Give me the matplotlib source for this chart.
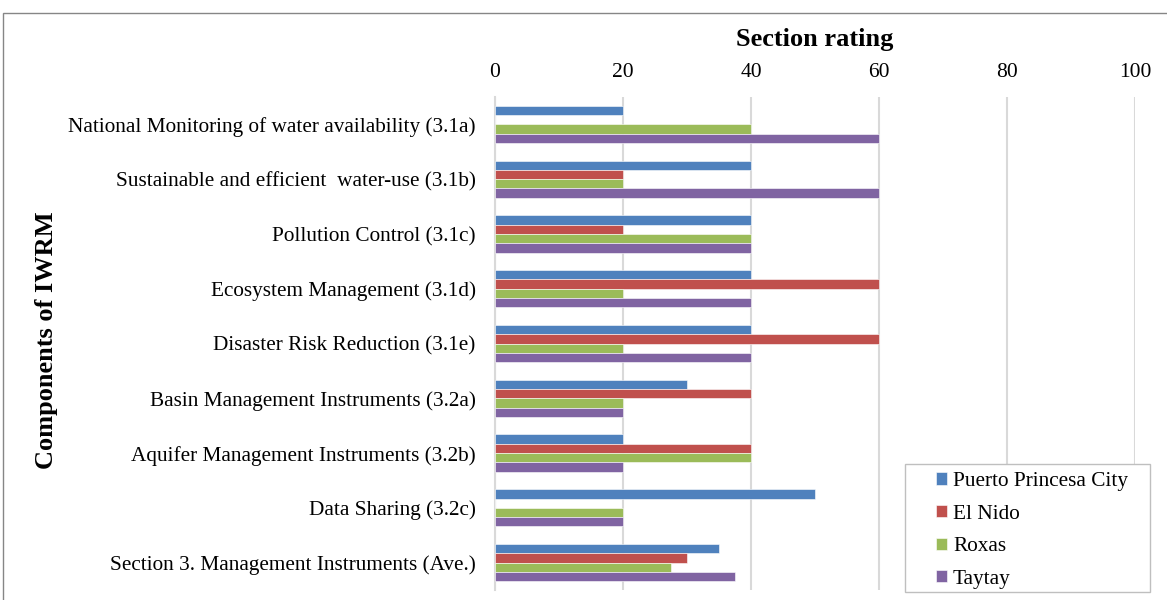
import matplotlib.pyplot as plt
import numpy as np
from matplotlib.patches import Rectangle

plt.rcParams['font.family'] = ['Liberation Serif', 'DejaVu Serif']

# data, top to bottom as in the chart
categories = [
    "National Monitoring of water availability (3.1a)",
    "Sustainable and efficient  water-use (3.1b)",
    "Pollution Control (3.1c)",
    "Ecosystem Management (3.1d)",
    "Disaster Risk Reduction (3.1e)",
    "Basin Management Instruments (3.2a)",
    "Aquifer Management Instruments (3.2b)",
    "Data Sharing (3.2c)",
    "Section 3. Management Instruments (Ave.)",
]
series_names = ["Puerto Princesa City", "El Nido", "Roxas", "Taytay"]
puerto = [20, 40, 40, 40, 40, 30, 20, 50, 35]
el_nido = [0, 20, 20, 60, 60, 40, 40, 0, 30]
roxas = [40, 20, 40, 20, 20, 20, 40, 20, 27.5]
taytay = [60, 60, 40, 40, 40, 20, 20, 20, 37.5]
x_ticks = [0, 20, 40, 60, 80, 100]

colors = ["#4F81BD", "#C0504D", "#9BBB59", "#8064A2"]
W, H = 1167, 600

fig = plt.figure(figsize=(11.67, 6.0), dpi=100)
ax = fig.add_axes([495 / W, 10 / H, 640 / W, 493 / H])

# outer chart frame
fig.patches.append(Rectangle((3 / W, -0.01), 1.0, 1 - 13 / H + 0.01,
                             transform=fig.transFigure, fill=False,
                             edgecolor="#868686", linewidth=1.0))

n = len(categories)
ypos = np.arange(n)[::-1]  # first category on top
bh = 0.17
all_series = [puerto, el_nido, roxas, taytay]
for i, (vals, name, col) in enumerate(zip(all_series, series_names, colors)):
    offs = (1.5 - i) * bh
    ax.barh(ypos + offs, vals, height=bh, color=col, label=name,
            edgecolor="white", linewidth=0.4, zorder=3)

ax.set_xlim(0, 100)
ax.set_ylim(-0.5, n - 0.5)
ax.set_xticks(x_ticks)
ax.xaxis.tick_top()
ax.xaxis.set_label_position("top")
ax.set_xlabel("Section rating", fontsize=19, fontweight="bold", labelpad=12)
ax.set_yticks(ypos)
ax.set_yticklabels(categories, fontsize=15.3)
ax.tick_params(axis="both", length=0)
ax.tick_params(axis="x", pad=11, labelsize=15.5)
ax.tick_params(axis="y", pad=14)
ax.grid(axis="x", color="#D9D9D9", linewidth=1.5, zorder=0)
for s in ["top", "right", "bottom"]:
    ax.spines[s].set_visible(False)
ax.spines["left"].set_color("#D9D9D9")
ax.spines["left"].set_linewidth(1.5)

fig.text(46 / W, 1 - 340 / H, "Components of IWRM", rotation=90,
         fontsize=19, fontweight="bold", ha="center", va="center")

# legend box, then the entries on top of it
fig.patches.append(Rectangle((905 / W, 1 - 592 / H), 245 / W, 128 / H,
                             transform=fig.transFigure, facecolor="white",
                             edgecolor="#BFBFBF", linewidth=1.0, zorder=2))
handles, labels = ax.get_legend_handles_labels()
leg = fig.legend(handles, labels, loc="upper left",
                 bbox_to_anchor=(936 / W, 1 - 472 / H),
                 fontsize=15.3, frameon=False,
                 handlelength=0.5, handleheight=0.5, handletextpad=0.3,
                 labelspacing=0.64, borderpad=0, borderaxespad=0)
leg.set_zorder(5)

fig.savefig("out.png", dpi=100)
